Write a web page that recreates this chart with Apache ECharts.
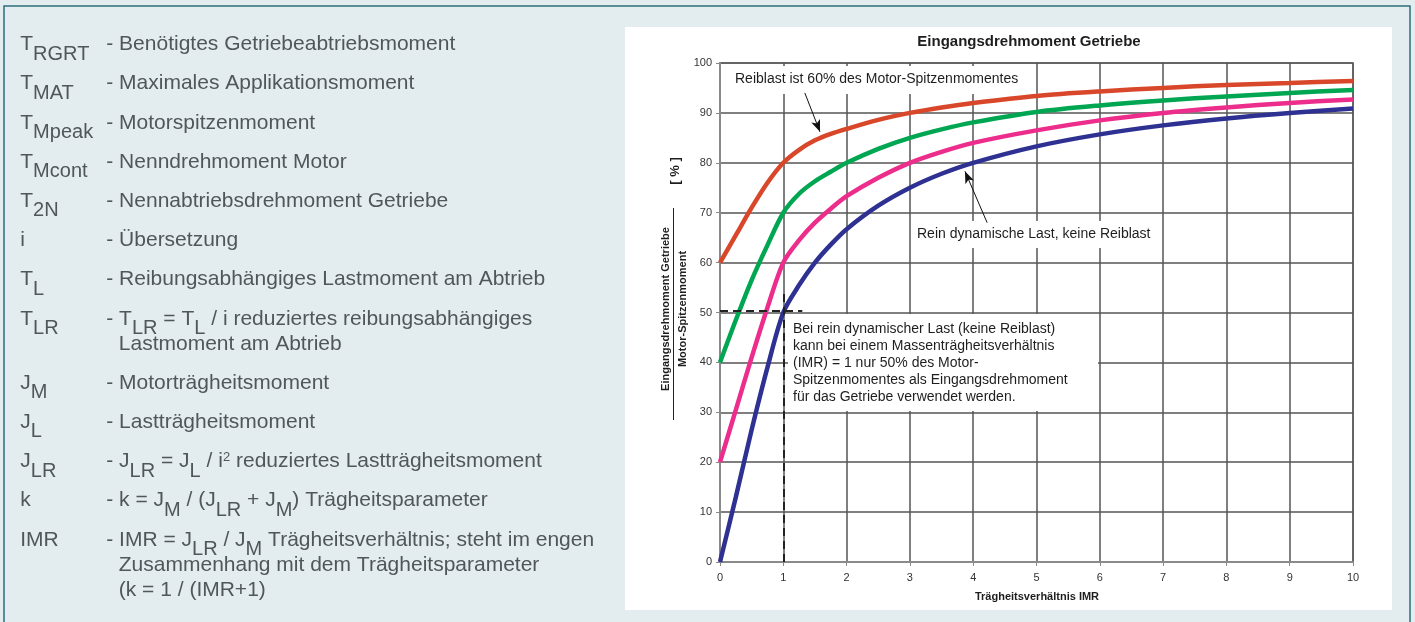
<!DOCTYPE html>
<html>
<head>
<meta charset="utf-8">
<script src="https://cdn.jsdelivr.net/npm/echarts@6/dist/echarts.min.js"></script>
<style>
  html, body { margin: 0; padding: 0; background: #e3ecee; }
  #chart { width: 1415px; height: 622px; }
</style>
</head>
<body>
<div id="chart"></div>
<script>
// Trägheitsverhältnis IMR (x-Achse)
const imr = [0, 0.25, 0.5, 0.75, 1, 1.25, 1.5, 1.75, 2, 2.5, 3, 3.5, 4, 5, 6, 7, 8, 9, 10];
// Eingangsdrehmoment in % des Motor-Spitzenmomentes
const reiblast60 = [60, 65.5, 71, 76, 80, 82.6, 84.5, 85.8, 86.8, 88.6, 90, 91.1, 92, 93.4, 94.3, 95, 95.6, 96, 96.4];
const reiblast40 = [40, 48.5, 56.5, 63.5, 70, 73.8, 76.3, 78.2, 80, 82.8, 85, 86.7, 88.1, 90.2, 91.5, 92.5, 93.3, 94, 94.6];
const reiblast20 = [20, 30.5, 41, 51, 60, 64.5, 68, 70.8, 73.3, 77, 80, 82.2, 84, 86.5, 88.5, 90, 91.1, 92, 92.7];
const dynamisch = [0, 13, 26.5, 39, 50, 55.5, 60, 63.6, 66.7, 71.4, 75, 77.8, 80, 83.3, 85.7, 87.5, 88.9, 90, 90.9];

// Legende links: Symbol, Beschreibung, Folgezeilen
const symbole = ['T_{RGRT}', 'T_{MAT}', 'T_{Mpeak}', 'T_{Mcont}', 'T_{2N}', 'i', 'T_{L}', 'T_{LR}', 'J_{M}', 'J_{L}', 'J_{LR}', 'k', 'IMR'];
const beschreibungen = [
  '- Benötigtes Getriebeabtriebsmoment',
  '- Maximales Applikationsmoment',
  '- Motorspitzenmoment',
  '- Nenndrehmoment Motor',
  '- Nennabtriebsdrehmoment Getriebe',
  '- Übersetzung',
  '- Reibungsabhängiges Lastmoment am Abtrieb',
  '- T_{LR} = T_{L} / i reduziertes reibungsabhängiges',
  '- Motorträgheitsmoment',
  '- Lastträgheitsmoment',
  '- J_{LR} = J_{L} / i^{2} reduziertes Lastträgheitsmoment',
  '- k = J_{M} / (J_{LR} + J_{M}) Trägheitsparameter',
  '- IMR = J_{LR} / J_{M} Trägheitsverhältnis; steht im engen'
];
const folgezeilen = [[], [], [], [], [], [], [], ['Lastmoment am Abtrieb'], [], [], [], [],
  ['Zusammenhang mit dem Trägheitsparameter', '(k = 1 / (IMR+1)']];

const FONT = '"Liberation Sans", Arial, sans-serif';
const GRAU = '#50575a';

// einfache Auszeichnung _{..} / ^{..} in ECharts-Rich-Text umwandeln
function fmt(str) {
  let out = '{g| }';
  const re = /([_^])\{([^}]*)\}/g;
  let last = 0, m;
  while ((m = re.exec(str))) {
    if (m.index > last) out += '{m|' + str.slice(last, m.index) + '}';
    out += (m[1] === '_' ? '{s|' : '{p|') + m[2] + '}';
    last = re.lastIndex;
  }
  if (last < str.length) out += '{m|' + str.slice(last) + '}';
  return out;
}
const rich = {
  g: { fontSize: 1, lineHeight: 30, fontFamily: FONT, fill: GRAU },
  m: { fontSize: 21, lineHeight: 24, verticalAlign: 'top', fontFamily: FONT, fill: GRAU },
  s: { fontSize: 20, lineHeight: 24, verticalAlign: 'bottom', fontFamily: FONT, fill: GRAU },
  p: { fontSize: 13, lineHeight: 16, verticalAlign: 'top', fontFamily: FONT, fill: GRAU }
};

function richText(x, y, str) {
  return {
    type: 'text', x: x, y: y + 6, z: 1,
    style: { text: fmt(str), rich: rich, fill: GRAU, font: '21px ' + FONT,
      align: 'left', verticalAlign: 'middle', textAlign: 'left', textVerticalAlign: 'middle' }
  };
}

function plainText(x, y, str, font, align, rotation) {
  return {
    type: 'text', x: x, y: y, z: 1, rotation: rotation || 0,
    style: { text: str, font: font, fill: '#1e1e1e',
      align: align, verticalAlign: 'middle', textAlign: align, textVerticalAlign: 'middle' }
  };
}

const graphics = [
  // Rahmen und weisse Diagrammflaeche
  { type: 'rect', z: -1, shape: { x: 4, y: 6, width: 1406, height: 700 },
    style: { fill: '#e3ecee', stroke: '#2d6f79', lineWidth: 1.5 } },
  { type: 'rect', z: -1, shape: { x: 625, y: 27, width: 767, height: 583 }, style: { fill: '#fff' } }
];

// Legende links
let zusatz = 0;
symbole.forEach((sym, i) => {
  const y = 43 + 39.2 * i + 25 * zusatz;
  graphics.push(richText(20, y, sym));
  graphics.push(richText(106, y, beschreibungen[i]));
  folgezeilen[i].forEach((z, k) => {
    graphics.push(richText(118.5, y + 25 * (k + 1), z));
  });
  zusatz += folgezeilen[i].length;
});

// Titel, Achsentitel
graphics.push(plainText(1029, 42, 'Eingangsdrehmoment Getriebe', 'bold 15px ' + FONT, 'center'));
graphics.push(plainText(1037, 597, 'Trägheitsverhältnis IMR', 'bold 11px ' + FONT, 'center'));
graphics.push(plainText(675, 171, '[ % ]', 'bold 13px ' + FONT, 'center', Math.PI / 2));
graphics.push(plainText(666, 309, 'Eingangsdrehmoment Getriebe', 'bold 11px ' + FONT, 'center', Math.PI / 2));
graphics.push(plainText(683, 309, 'Motor-Spitzenmoment', 'bold 11px ' + FONT, 'center', Math.PI / 2));
graphics.push({ type: 'line', z: 1, shape: { x1: 673.5, y1: 208, x2: 673.5, y2: 420 },
  style: { stroke: '#222', lineWidth: 1 } });

// Hinweistexte mit weissem Hintergrund
const hinweisFont = '14px ' + FONT;
graphics.push({ type: 'rect', z: 1, shape: { x: 728, y: 66, width: 302, height: 28 }, style: { fill: '#fff' } });
graphics.push(plainText(735, 79, 'Reiblast ist 60% des Motor-Spitzenmomentes', hinweisFont, 'left'));
graphics.push({ type: 'rect', z: 1, shape: { x: 911, y: 221, width: 250, height: 27 }, style: { fill: '#fff' } });
graphics.push(plainText(917, 234, 'Rein dynamische Last, keine Reiblast', hinweisFont, 'left'));
graphics.push({ type: 'rect', z: 1, shape: { x: 788, y: 314, width: 310, height: 97 }, style: { fill: '#fff' } });
graphics.push({
  type: 'text', x: 793, y: 320.5, z: 1,
  style: {
    text: 'Bei rein dynamischer Last (keine Reiblast)\nkann bei einem Massenträgheitsverhältnis\n(IMR) = 1 nur 50% des Motor-\nSpitzenmomentes als Eingangsdrehmoment\nfür das Getriebe verwendet werden.',
    font: hinweisFont, fill: '#1e1e1e', lineHeight: 17,
    align: 'left', verticalAlign: 'top', textAlign: 'left', textVerticalAlign: 'top'
  }
});

function punkte(werte) {
  return imr.map((x, i) => [x, werte[i]]);
}

function linie(name, werte, farbe) {
  return {
    name: name, type: 'line', data: punkte(werte),
    smooth: 0.3, showSymbol: false, symbol: 'none',
    lineStyle: { color: farbe, width: 4.5 }, itemStyle: { color: farbe },
    z: 3
  };
}

const gitter = { color: '#555', width: 1.5 };
const achse = { color: '#8a8a8a', width: 2 };

const option = {
  animation: false,
  backgroundColor: '#e3ecee',
  graphic: { elements: graphics },
  grid: { left: 720, right: 62, top: 63, bottom: 60, show: true, borderColor: '#999', borderWidth: 2 },
  xAxis: {
    type: 'value', min: 0, max: 10, interval: 1,
    axisLine: { lineStyle: achse },
    axisTick: { show: true, length: 4, lineStyle: { color: '#888' } },
    axisLabel: { fontSize: 11, color: '#333', margin: 10, fontFamily: FONT },
    splitLine: { show: true, lineStyle: gitter }
  },
  yAxis: {
    type: 'value', min: 0, max: 100, interval: 10,
    axisLine: { show: true, lineStyle: achse },
    axisTick: { show: true, length: 4, lineStyle: { color: '#888' } },
    axisLabel: { fontSize: 11, color: '#333', margin: 8, fontFamily: FONT },
    splitLine: { show: true, lineStyle: gitter }
  },
  series: [
    linie('Reiblast 60%', reiblast60, '#d9472b'),
    linie('Reiblast 40%', reiblast40, '#00a651'),
    linie('Reiblast 20%', reiblast20, '#ec2d8c'),
    Object.assign(linie('Rein dynamische Last', dynamisch, '#2e3192'), {
      markLine: {
        silent: true, animation: false,
        symbol: ['none', 'none'],
        label: { show: false },
        lineStyle: { color: '#222', width: 2, type: [8, 5] },
        data: [
          [{ coord: [0, 50.4] }, { coord: [1.3, 50.4] }],
          [{ coord: [1, 0] }, { coord: [1, 54] }],
          [{ coord: [1.34, 94], symbol: 'none', lineStyle: { type: 'solid', width: 1, color: '#111' } },
           { coord: [1.58, 86.2], symbol: 'arrow', symbolSize: [7, 12] }],
          [{ coord: [4.22, 68], symbol: 'none', lineStyle: { type: 'solid', width: 1, color: '#111' } },
           { coord: [3.87, 78.3], symbol: 'arrow', symbolSize: [7, 12] }]
        ]
      }
    })
  ]
};

const chart = echarts.init(document.getElementById('chart'));
chart.setOption(option);
window.addEventListener('resize', () => chart.resize());
</script>
</body>
</html>
